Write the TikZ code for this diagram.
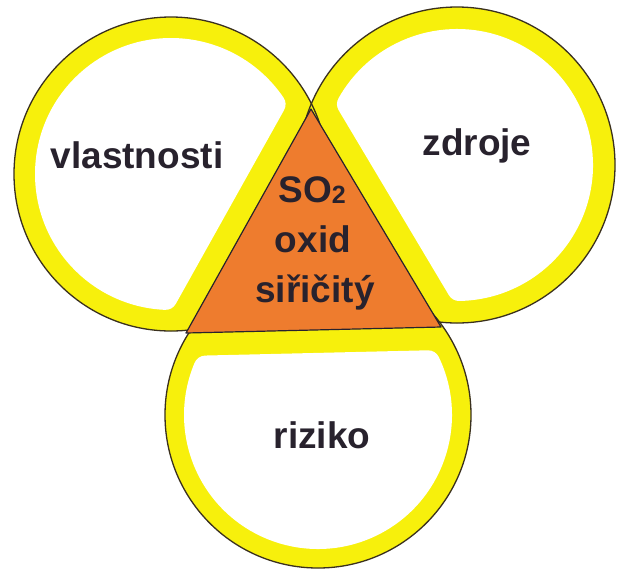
\documentclass[tikz,border=0pt]{standalone}
\usepackage{fontspec}
\setmainfont{Liberation Sans}
\definecolor{ylw}{RGB}{247,240,12}
\definecolor{org}{RGB}{238,124,46}
\definecolor{ink}{RGB}{40,34,45}
\definecolor{rim}{RGB}{58,48,30}
\begin{document}
\begin{tikzpicture}[x=1pt,y=-1pt,
  lbl/.style={font=\bfseries\fontsize{37}{44}\selectfont, text=ink, anchor=base, inner sep=0pt},
  rimline/.style={draw=rim, line width=1.3pt},
  hole/.style={fill=white, draw=white, line width=24pt, line join=round},
  tri/.style={fill=org, draw=ink, line width=1.2pt, line join=round}]
\fill[white] (0,0) rectangle (620,574);
\useasboundingbox (0,0) rectangle (620,574);
% triangle corners
\coordinate (A) at (311,109);
\coordinate (B) at (186,333);
\coordinate (C) at (441,327);
% circle centres
\coordinate (cL) at (171,174);
\coordinate (cR) at (457,165);
\coordinate (cD) at (318,415);
% yellow discs
\fill[ylw] (cL) circle[radius=157] (cR) circle[radius=158] (cD) circle[radius=153];
% yellow halo round the triangle, kept inside the circles
\begin{scope}
  \clip (cL) circle[radius=157] (cR) circle[radius=158] (cD) circle[radius=153];
  \draw[ylw, line width=46pt, line join=round] (A) -- (B) -- (C) -- cycle;
\end{scope}
% white interiors with rounded corners
\path[hole] ([shift={(92.6:124)}]cL) arc[start angle=92.6, end angle=325.8, radius=124] -- cycle;
\path[hole] ([shift={(209.4:124)}]cR) arc[start angle=209.4, end angle=449.0, radius=124] -- cycle;
\path[hole] ([shift={(334.4:122)}]cD) arc[start angle=334.4, end angle=562.9, radius=122] -- cycle;
% outlines
\draw[rimline] (cL) circle[radius=157];
\draw[rimline] (cR) circle[radius=158];
\draw[rimline] (cD) circle[radius=153];
% triangle
\path[tri] (A) -- (B) -- (C) -- cycle;
% labels
\node[lbl] (v) at (137,168) {vlastnosti};
\node[lbl] (z) at (477,155) {zdroje};
\node[lbl] (r) at (322,448) {riziko};
\node[lbl] (so) at (312,202) {SO\raisebox{-1pt}{\fontsize{25}{25}\selectfont 2}};
\node[lbl] (ox) at (313,252) {oxid};
\node[lbl] (si) at (315,302) {siřičitý};
\end{tikzpicture}
\end{document}
